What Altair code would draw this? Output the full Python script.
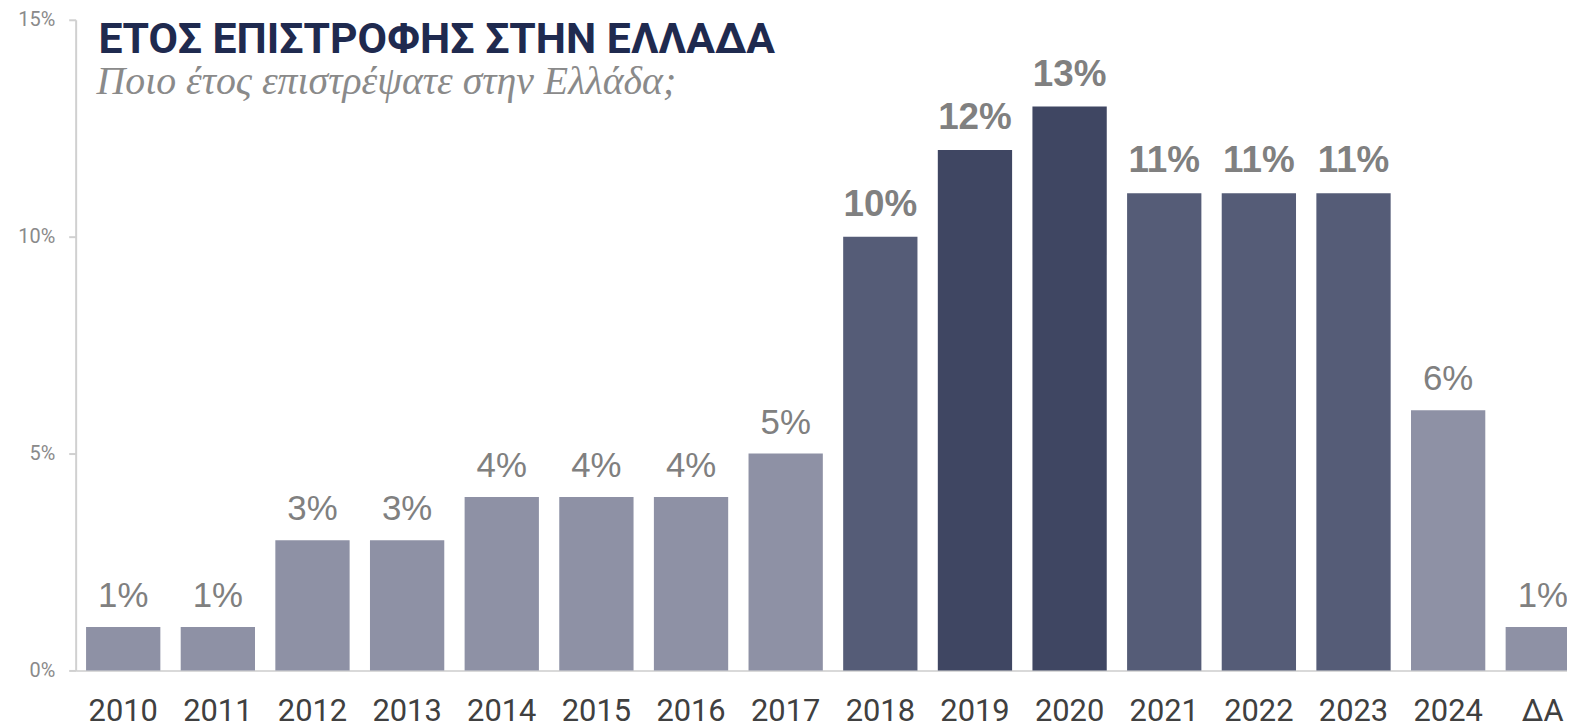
import altair as alt
import pandas as pd

years = ["2010", "2011", "2012", "2013", "2014", "2015", "2016", "2017",
         "2018", "2019", "2020", "2021", "2022", "2023", "2024", "ΔΑ"]
values = [1, 1, 3, 3, 4, 4, 4, 5, 10, 12, 13, 11, 11, 11, 6, 1]
shade = ["light", "light", "light", "light", "light", "light", "light", "light",
         "mid", "dark", "dark", "mid", "mid", "mid", "light", "light"]
title_text = "ΕΤΟΣ ΕΠΙΣΤΡΟΦΗΣ ΣΤΗΝ ΕΛΛΑΔΑ"
subtitle_text = "Ποιο έτος επιστρέψατε στην Ελλάδα;"

df = pd.DataFrame({"year": years, "value": [v / 100 for v in values], "shade": shade})
df["label"] = [f"{v}%" for v in values]
df["strong"] = [v >= 10 for v in values]

W, H = 1499, 654

x = alt.X("year:N", sort=years, title=None,
          scale=alt.Scale(paddingInner=0.215, paddingOuter=0.055, align=1, rangeMax=1512),
          axis=alt.Axis(labelAngle=0, labelFont="Roboto", labelFontSize=31,
                        labelColor="#404040", labelPadding=26, ticks=False,
                        domain=True, domainColor="#d9d9d9", domainWidth=2))
y = alt.Y("value:Q", title=None,
          scale=alt.Scale(domain=[0, 0.15], nice=False),
          axis=alt.Axis(values=[0, 0.05, 0.10, 0.15], format=".0%", grid=False,
                        labelFont="Roboto", labelFontSize=20, labelColor="#8a8a8a",
                        labelPadding=14, tickSize=7, tickColor="#d0d0d0", tickWidth=2,
                        domainColor="#d0d0d0", domainWidth=2))

base = alt.Chart(df)
bars = base.mark_bar().encode(
    x=x, y=y,
    color=alt.Color("shade:N", legend=None,
                    scale=alt.Scale(domain=["light", "mid", "dark"],
                                    range=["#8e91a5", "#555c77", "#3f4662"])),
)
lab_reg = base.transform_filter("!datum.strong").mark_text(
    font="Liberation Sans", fontSize=35, color="#808080", baseline="bottom", dy=-13
).encode(x=alt.X("year:N", sort=years), y="value:Q", text="label:N")
lab_bold = base.transform_filter("datum.strong").mark_text(
    font="Liberation Sans", fontSize=37, fontWeight="bold", color="#808080",
    baseline="bottom", dy=-13
).encode(x=alt.X("year:N", sort=years), y="value:Q", text="label:N")

tdf = pd.DataFrame({"t": [title_text]})
sdf = pd.DataFrame({"s": [subtitle_text]})
title = alt.Chart(tdf).mark_text(
    font="Roboto", fontSize=43, fontWeight="bold", color="#1f2a4f",
    align="left", baseline="middle"
).encode(x=alt.value(23), y=alt.value(20), text="t:N")
subtitle = alt.Chart(sdf).mark_text(
    font="Liberation Serif", fontSize=40, fontStyle="italic", color="#8a8a8a",
    align="left", baseline="middle"
).encode(x=alt.value(21), y=alt.value(63), text="s:N")

chart = alt.layer(bars, lab_reg, lab_bold, title, subtitle).properties(
    width=W, height=H,
    autosize=alt.AutoSizeParams(type="none"),
    padding={"left": 68, "top": 10, "right": 0, "bottom": 53},
).configure_view(stroke=None)

chart.save("out.html", embed_options={"renderer": "svg", "actions": False})
